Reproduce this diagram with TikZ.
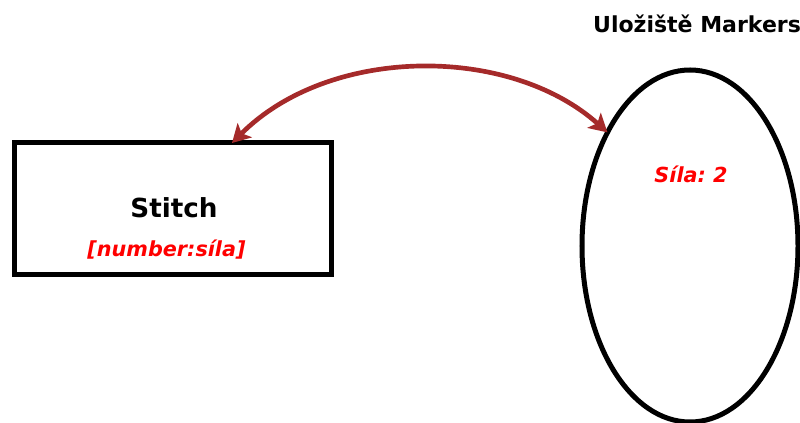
\documentclass[tikz,border=0pt]{standalone}
\usepackage{fontspec}
\setmainfont{DejaVu Sans}
\usetikzlibrary{arrows.meta}
\usetikzlibrary{shapes.geometric}
\definecolor{linkred}{RGB}{165,42,42}
\definecolor{notered}{RGB}{255,0,0}
\frenchspacing

\begin{document}
\begin{tikzpicture}[x=0.03cm,y=-0.03cm,>={Stealth[length=0.54cm,width=0.6cm,inset=0.13cm]},
    box node/.style={rectangle,draw,line width=0.15cm,inner sep=0pt,outer sep=0pt,minimum width=9.48cm,minimum height=3.93cm},
    store node/.style={ellipse,draw,line width=0.15cm,inner sep=0pt,outer sep=0pt,minimum width=6.48cm,minimum height=10.56cm},
    title text/.style={anchor=base,font=\fontsize{22.4pt}{26pt}\selectfont\bfseries},
    head text/.style={anchor=base west,font=\fontsize{18.8pt}{22pt}\selectfont\bfseries},
    note text/.style={anchor=base,text=notered,font=\fontsize{17.7pt}{21pt}\selectfont\bfseries\itshape}]
   \useasboundingbox (0,0) rectangle (800,423);
   % stitch box
   \node[box node] (stitch) at (173,208.5) {};
   \node[title text] (stitchname) at (174,217) {Stitch};
   \node[note text] (stitcharg) at (166.5,256) {[number:síla]};
   % marker store
   \node[store node] (store) at (690,246) {};
   \node[head text] (storename) at (589,33) {Uložiště Markers};
   \node[note text] (storeval) at (691,183) {Síla: 2};
   % link between them
   \draw[<->,line width=0.14cm,color=linkred]
     (stitch.48.8) .. controls (330,45) and (510,45) .. (store.126.5);
\end{tikzpicture}
\end{document}
